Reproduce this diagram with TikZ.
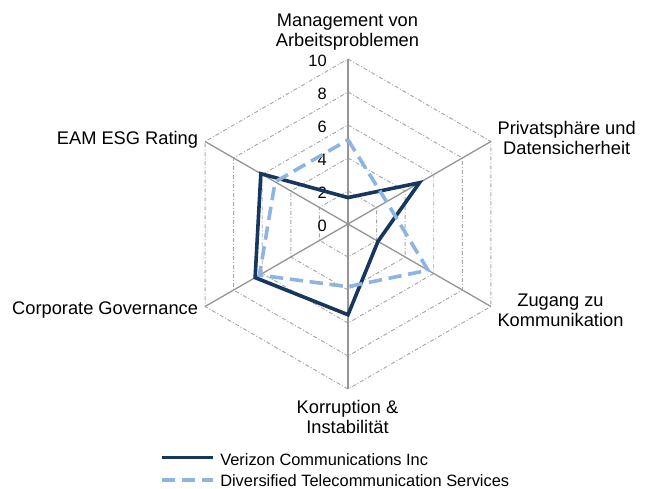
\documentclass[tikz,border=0pt]{standalone}
\usepackage{fontspec}
\setmainfont{Liberation Sans}
\definecolor{gridgray}{HTML}{A6A6A6}
\definecolor{axisgray}{HTML}{969696}
\definecolor{vzblue}{HTML}{17375E}
\definecolor{dvblue}{HTML}{8DB4E2}
\begin{document}
\begin{tikzpicture}[x=0.75pt,y=0.75pt,
  ring/.style={draw=gridgray, line width=0.7pt, dash pattern=on 3pt off 1.5pt on 0.75pt off 1.5pt},
  spoke/.style={draw=axisgray, line width=1pt},
  verizon/.style={draw=vzblue, line width=2.7pt, line join=miter},
  divers/.style={draw=dvblue, line width=2.7pt, dash pattern=on 10pt off 5pt},
  catlabel/.style={font=\fontsize{13.7}{15}\selectfont, inner sep=0pt, align=center},
  ticklabel/.style={font=\fontsize{12.3}{14}\selectfont, inner sep=0pt, anchor=east},
  legtext/.style={font=\fontsize{12.3}{14}\selectfont, inner sep=0pt, anchor=base west}]
\useasboundingbox (-348,-264) rectangle (300,224);
\coordinate (c) at (0,0);
% grid rings
\foreach \v in {2,4,6,8,10}{
  \pgfmathsetmacro\r{16.5*\v}
  \draw[ring] (90:\r) -- (30:\r) -- (-30:\r) -- (-90:\r) -- (-150:\r) -- (150:\r) -- cycle;
}
% spokes
\foreach \a/\n in {90/aM,30/aP,-30/aZ,-90/aK,-150/aC,150/aE}{
  \coordinate (\n) at (\a:165);
  \draw[spoke] (c) -- (\n);
}
% tick labels
\foreach \v in {0,2,4,6,8,10}{
  \node[ticklabel] (t\v) at (-21,16.5*\v-2) {\v};
}
% category labels (base anchor = baseline of last line)
\node[catlabel, anchor=base] (lM) at (-0.5,177.3) {Management von\\Arbeitsproblemen};
\node[catlabel, anchor=base] (lP) at (218.7,69) {Privatsphäre und\\Datensicherheit};
\node[catlabel, anchor=base] (lZ) at (212.5,-102.7) {Zugang zu\\Kommunikation};
\node[catlabel, anchor=base] (lK) at (-0.5,-209.3) {Korruption \&\\Instabilität};
\node[catlabel, anchor=base east] (lC) at (-149.7,-91) {Corporate Governance};
\node[catlabel, anchor=base east] (lE) at (-149.7,79) {EAM ESG Rating};
% data: Verizon
\coordinate (v1) at (90:{1.6*16.5});
\coordinate (v2) at (30:{5.0*16.5});
\coordinate (v3) at (-30:{2.1*16.5});
\coordinate (v4) at (-90:{5.5*16.5});
\coordinate (v5) at (-150:{6.5*16.5});
\coordinate (v6) at (150:{6.1*16.5});
% data: Diversified
\coordinate (d1) at (90:{5.1*16.5});
\coordinate (d2) at (30:{2.7*16.5});
\coordinate (d3) at (-30:{5.6*16.5});
\coordinate (d4) at (-90:{3.8*16.5});
\coordinate (d5) at (-150:{6.2*16.5});
\coordinate (d6) at (150:{5.1*16.5});
\draw[verizon] (v1) -- (v2) -- (v3) -- (v4) -- (v5) -- (v6) -- cycle;
\draw[divers] (d1) -- (d2) -- (d3) -- (d4) -- (d5) -- (d6) -- cycle;
% legend
\coordinate (lv1) at (-186.3,-233.3);
\coordinate (lv2) at (-134.7,-233.3);
\draw[verizon] (lv1) -- (lv2);
\node[legtext] (lvt) at (-128,-241) {Verizon Communications Inc};
\coordinate (ld1) at (-186.3,-256);
\coordinate (ld2) at (-134.7,-256);
\draw[divers] (ld1) -- (ld2);
\node[legtext] (ldt) at (-128,-262) {Diversified Telecommunication Services};
\end{tikzpicture}
\end{document}
